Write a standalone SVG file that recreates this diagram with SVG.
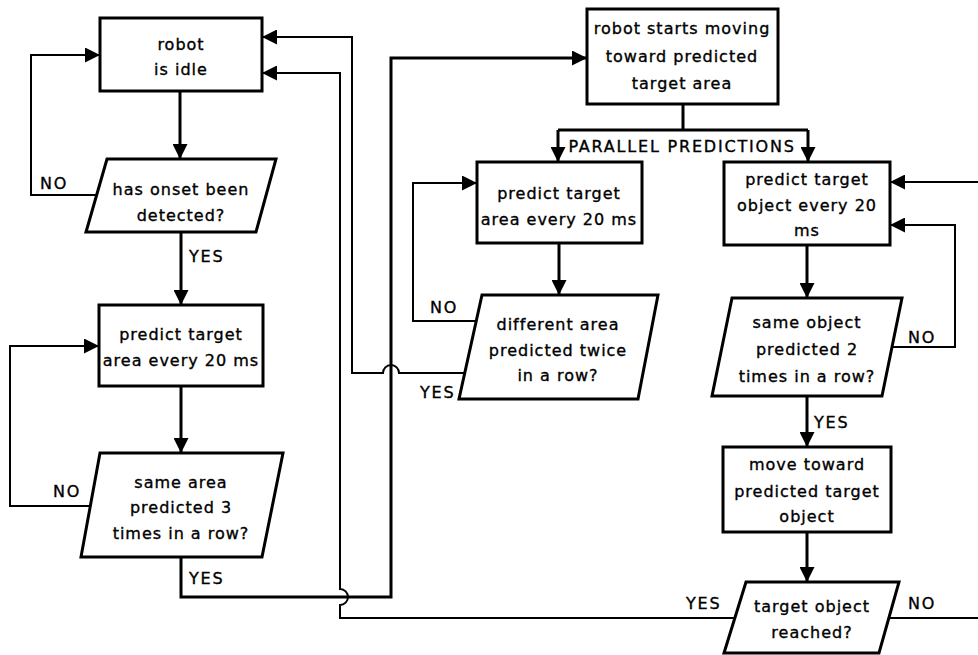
<svg xmlns="http://www.w3.org/2000/svg" width="978" height="655" viewBox="0 0 978 655">
<defs>
<marker id="ah" markerUnits="userSpaceOnUse" markerWidth="16" markerHeight="15" refX="15" refY="7.5" orient="auto">
<path d="M0,0 L15,7.5 L0,15 Z" fill="#000"/>
</marker>
<style>
.box{fill:#fff;stroke:#000;stroke-width:3}
.t{font-family:"DejaVu Sans",sans-serif;font-size:16px;fill:#000;stroke:#000;stroke-width:0.35;text-anchor:middle;letter-spacing:1px}
.lb{font-family:"DejaVu Sans",sans-serif;font-size:16px;fill:#000;stroke:#000;stroke-width:0.35;letter-spacing:1.8px}
.c{fill:none;stroke:#000;stroke-width:3;stroke-linejoin:miter}
.c2{fill:none;stroke:#000;stroke-width:2}
</style>
</defs>
<rect width="978" height="655" fill="#fff"/>
<g id="connectors">
<path class="c" d="M180,91 V159" marker-end="url(#ah)"/>
<path class="c2" d="M97,195 H31 V55 H100" marker-end="url(#ah)"/>
<path class="c" d="M181,232 V305" marker-end="url(#ah)"/>
<path class="c" d="M181,386 V453" marker-end="url(#ah)"/>
<path class="c2" d="M90,506 H10 V346 H99" marker-end="url(#ah)"/>
<path class="c" d="M181,557 V597 H391 V58 H587" marker-end="url(#ah)"/>
<path class="c" d="M683,104 V130"/>
<path class="c" d="M558,130 H808"/>
<path class="c" d="M558,130 V162" marker-end="url(#ah)"/>
<path class="c" d="M808,130 V162" marker-end="url(#ah)"/>
<path class="c" d="M559,243 V295" marker-end="url(#ah)"/>
<path class="c2" d="M476,321 H413 V183 H477" marker-end="url(#ah)"/>
<path class="c2" d="M465,373 H399 A8,8 0 0 0 383,373 H352 V37 H262" marker-end="url(#ah)"/>
<path class="c" d="M807,245 V298" marker-end="url(#ah)"/>
<path class="c2" d="M892,347 H955 V225 H890" marker-end="url(#ah)"/>
<path class="c2" d="M978,182 H890" marker-end="url(#ah)"/>
<path class="c" d="M807,396 V447" marker-end="url(#ah)"/>
<path class="c" d="M807,532 V582" marker-end="url(#ah)"/>
<path class="c2" d="M735,618 H340 V605 A8,8 0 0 0 340,589 V73 H262" marker-end="url(#ah)"/>
<path class="c2" d="M889,618 H978"/>
</g>
<g id="labels">
<text class="lb" x="40" y="189">NO</text>
<text class="lb" x="189" y="262">YES</text>
<text class="lb" x="53" y="497">NO</text>
<text class="lb" x="189" y="584">YES</text>
<text class="lb" x="682" y="152" text-anchor="middle">PARALLEL PREDICTIONS</text>
<text class="lb" x="430" y="313">NO</text>
<text class="lb" x="420" y="398">YES</text>
<text class="lb" x="908" y="343">NO</text>
<text class="lb" x="814" y="428">YES</text>
<text class="lb" x="686" y="609">YES</text>
<text class="lb" x="908" y="609">NO</text>
</g>
<g id="n1"><rect class="box" x="100" y="18" width="162" height="73"/><text class="t" x="181" y="50">robot</text><text class="t" x="181" y="75">is idle</text></g>
<g id="n2"><polygon class="box" points="107,159 276,159 256,232 86,232"/><text class="t" x="181" y="195">has onset been</text><text class="t" x="181" y="221">detected?</text></g>
<g id="n3"><rect class="box" x="99" y="305" width="164" height="81"/><text class="t" x="181" y="340">predict target</text><text class="t" x="181" y="366">area every 20 ms</text></g>
<g id="n4"><polygon class="box" points="100,453 283,453 262,557 81,557"/><text class="t" x="181" y="488">same area</text><text class="t" x="181" y="513">predicted 3</text><text class="t" x="181" y="539">times in a row?</text></g>
<g id="n5"><rect class="box" x="587" y="9" width="191" height="95"/><text class="t" x="682" y="34">robot starts moving</text><text class="t" x="682" y="62">toward predicted</text><text class="t" x="682" y="89">target area</text></g>
<g id="n6"><rect class="box" x="477" y="162" width="165" height="81"/><text class="t" x="559" y="199">predict target</text><text class="t" x="559" y="225">area every 20 ms</text></g>
<g id="n7"><polygon class="box" points="482,295 658,295 638,399 459,399"/><text class="t" x="558" y="330">different area</text><text class="t" x="558" y="356">predicted twice</text><text class="t" x="558" y="381">in a row?</text></g>
<g id="n8"><rect class="box" x="724" y="162" width="166" height="83"/><text class="t" x="807" y="185">predict target</text><text class="t" x="807" y="211">object every 20</text><text class="t" x="807" y="236">ms</text></g>
<g id="n9"><polygon class="box" points="732,298 902,298 882,396 712,396"/><text class="t" x="807" y="328">same object</text><text class="t" x="807" y="355">predicted 2</text><text class="t" x="807" y="382">times in a row?</text></g>
<g id="n10"><rect class="box" x="723" y="447" width="168" height="85"/><text class="t" x="807" y="470">move toward</text><text class="t" x="807" y="497">predicted target</text><text class="t" x="807" y="522">object</text></g>
<g id="n11"><polygon class="box" points="746,582 899,582 879,653 724,653"/><text class="t" x="812" y="612">target object</text><text class="t" x="812" y="638">reached?</text></g>
</svg>
